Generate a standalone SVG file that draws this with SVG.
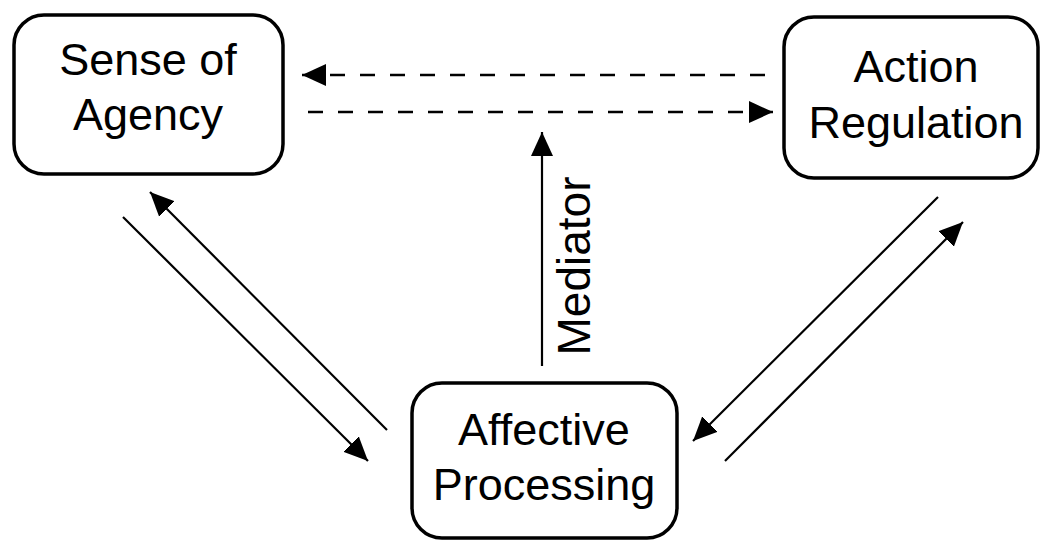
<svg xmlns="http://www.w3.org/2000/svg" width="1042" height="541" viewBox="0 0 1042 541">
<style>
.box{fill:#fff;stroke:#000;stroke-width:3.5}
.lbl{font-family:"Liberation Sans",Arial,sans-serif;font-size:45px;fill:#000;text-anchor:middle}
.arr{stroke:#000;stroke-width:2.2;fill:none;marker-end:url(#ah)}
.dash{stroke-dasharray:15 15;stroke-width:2.5}
</style>
<defs>
<marker id="ah" markerUnits="userSpaceOnUse" markerWidth="26" markerHeight="26" viewBox="0 0 26 26" refX="24" refY="13" orient="auto">
<path d="M0,2 L24,13 L0,24 Z" fill="#000"/>
</marker>
</defs>
<rect width="1042" height="541" fill="#fff"/>
<g id="connectors">
<line class="arr dash" x1="765" y1="75" x2="302" y2="75"/>
<line class="arr dash" x1="308" y1="112" x2="773" y2="112"/>
<line class="arr" x1="542" y1="366" x2="542" y2="132"/>
<line class="arr" x1="123" y1="217" x2="368" y2="461"/>
<line class="arr" x1="387" y1="430" x2="150" y2="192"/>
<line class="arr" x1="938" y1="197" x2="693" y2="441"/>
<line class="arr" x1="725" y1="461" x2="963" y2="222"/>
<text class="lbl" transform="translate(590,266) rotate(-90)" style="font-size:46px">Mediator</text>
</g>
<g id="sense-of-agency">
<rect class="box" x="14" y="15" width="269" height="159" rx="30"/>
<text class="lbl" x="148" y="75">Sense of</text>
<text class="lbl" x="148" y="130">Agency</text>
</g>
<g id="action-regulation">
<rect class="box" x="784" y="17" width="254" height="161" rx="30"/>
<text class="lbl" x="916" y="82">Action</text>
<text class="lbl" x="916" y="138">Regulation</text>
</g>
<g id="affective-processing">
<rect class="box" x="412" y="383" width="265" height="155" rx="30"/>
<text class="lbl" x="544" y="445">Affective</text>
<text class="lbl" x="544" y="500">Processing</text>
</g>
</svg>
